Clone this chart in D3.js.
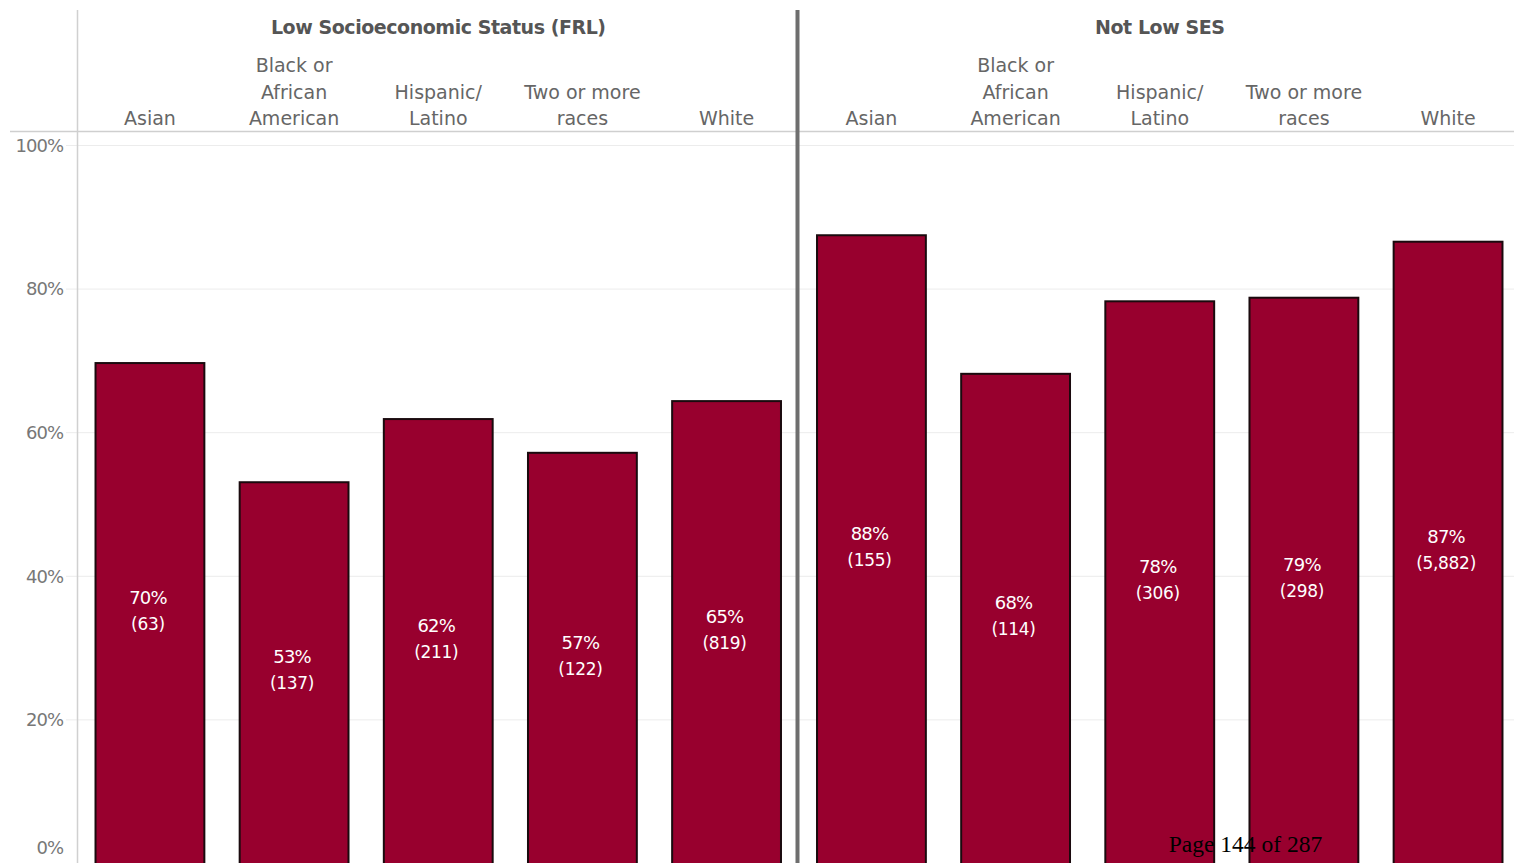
<!DOCTYPE html>
<html><head><meta charset="utf-8">
<script src="https://cdn.jsdelivr.net/npm/d3@7"></script>
<style>
html,body{margin:0;padding:0;background:#fff;overflow:hidden;}
svg{display:block;}
</style></head>
<body>
<svg id="chart" width="1514" height="863"></svg>
<script>
const groups = ["Low Socioeconomic Status (FRL)", "Not Low SES"];
const categories = ["Asian", "Black or African American", "Hispanic/ Latino", "Two or more races", "White"];
const categoryLines = [["Asian"], ["Black or", "African", "American"], ["Hispanic/", "Latino"], ["Two or more", "races"], ["White"]];
const lowValues = [69.7, 53.1, 61.9, 57.2, 64.4];
const lowPctLabels = ["70%", "53%", "62%", "57%", "65%"];
const lowCounts = ["(63)", "(137)", "(211)", "(122)", "(819)"];
const notLowValues = [87.5, 68.2, 78.3, 78.8, 86.6];
const notLowPctLabels = ["88%", "68%", "78%", "79%", "87%"];
const notLowCounts = ["(155)", "(114)", "(306)", "(298)", "(5,882)"];
const yTicks = [0, 20, 40, 60, 80, 100];
const footerText = "Page 144 of 287";

const seriesByGroup = [
  {values: lowValues, pct: lowPctLabels, counts: lowCounts},
  {values: notLowValues, pct: notLowPctLabels, counts: notLowCounts}
];

const W = 1514, H = 863;
const svg = d3.select("#chart");
const font = "'DejaVu Sans', sans-serif";
const textGray = "#666";

const y = d3.scaleLinear().domain([0, 100]).range([863.5, 145.5]);
const groupScale = d3.scaleBand().domain(groups).range([77.5, 1520.5]).padding(0);
const xInner = d3.scaleBand().domain(categories).range([0, groupScale.bandwidth()]).paddingInner(0.245).paddingOuter(0.125);

// gridlines
svg.append("g").selectAll("line").data(yTicks.filter(d => d > 0)).join("line")
  .attr("x1", 66).attr("x2", W)
  .attr("y1", d => y(d)).attr("y2", d => y(d))
  .attr("stroke", "#ececec").attr("stroke-width", 1);

// header separator line
svg.append("line").attr("x1", 10).attr("x2", W).attr("y1", 131.5).attr("y2", 131.5)
  .attr("stroke", "#cfcfcf").attr("stroke-width", 1.5);

// y axis line
svg.append("line").attr("x1", 77.5).attr("x2", 77.5).attr("y1", 10).attr("y2", H)
  .attr("stroke", "#d0d0d0").attr("stroke-width", 1.5);

// y tick labels
svg.append("g").selectAll("text").data(yTicks).join("text")
  .attr("x", 63)
  .attr("y", d => Math.min(y(d), 848))
  .attr("dy", "0.35em")
  .attr("text-anchor", "end")
  .attr("font-family", font).attr("font-size", 18).attr("letter-spacing", -1)
  .attr("fill", "#777")
  .text(d => d + "%");

groups.forEach((g, gi) => {
  const gx = groupScale(g);
  const gG = svg.append("g").attr("transform", `translate(${gx},0)`);
  // group title
  gG.append("text")
    .attr("x", groupScale.bandwidth() / 2).attr("y", 34)
    .attr("text-anchor", "middle")
    .attr("font-family", font).attr("font-size", 19).attr("font-weight", "bold")
    .attr("fill", "#555")
    .attr("letter-spacing", -0.45)
    .text(g);
  // category labels
  categories.forEach((c, ci) => {
    const lines = categoryLines[ci];
    const cx = xInner(c) + xInner.bandwidth() / 2;
    lines.forEach((ln, li) => {
      gG.append("text")
        .attr("x", cx)
        .attr("y", 125 - (lines.length - 1 - li) * 26.5)
        .attr("text-anchor", "middle")
        .attr("font-family", font).attr("font-size", 19)
        .attr("fill", textGray)
        .text(ln);
    });
  });
  const s = seriesByGroup[gi];
  const data = categories.map((c, i) => ({c, v: s.values[i], pct: s.pct[i], n: s.counts[i]}));
  gG.selectAll("rect.bar").data(data).join("rect")
    .attr("class", "bar")
    .attr("x", d => xInner(d.c))
    .attr("y", d => y(d.v))
    .attr("width", xInner.bandwidth())
    .attr("height", d => y(0) - y(d.v) + 5)
    .attr("fill", "#98002e")
    .attr("stroke", "#1a0a0e").attr("stroke-width", 2);
  const lab = gG.selectAll("g.lab").data(data).join("g").attr("class", "lab")
    .attr("transform", d => `translate(${xInner(d.c) + xInner.bandwidth() / 2 - 2},${(y(d.v) + y(0)) / 2 - 2.5})`);
  lab.append("text").attr("y", -7).attr("text-anchor", "middle")
    .attr("font-family", font).attr("font-size", 18).attr("letter-spacing", -0.8)
    .attr("fill", "#fff").text(d => d.pct);
  lab.append("text").attr("y", 19).attr("text-anchor", "middle")
    .attr("font-family", font).attr("font-size", 17).attr("letter-spacing", -0.3)
    .attr("fill", "#fff").text(d => d.n);
});

// divider between panels
svg.append("line").attr("x1", 797.5).attr("x2", 797.5).attr("y1", 10).attr("y2", H)
  .attr("stroke", "#6e6e6e").attr("stroke-width", 4);

// footer
svg.append("text").attr("x", 1245.5).attr("y", 852).attr("text-anchor", "middle")
  .attr("font-family", "'Liberation Serif', serif").attr("font-size", 23.5)
  .attr("fill", "#000").text(footerText);
</script>
</body></html>
